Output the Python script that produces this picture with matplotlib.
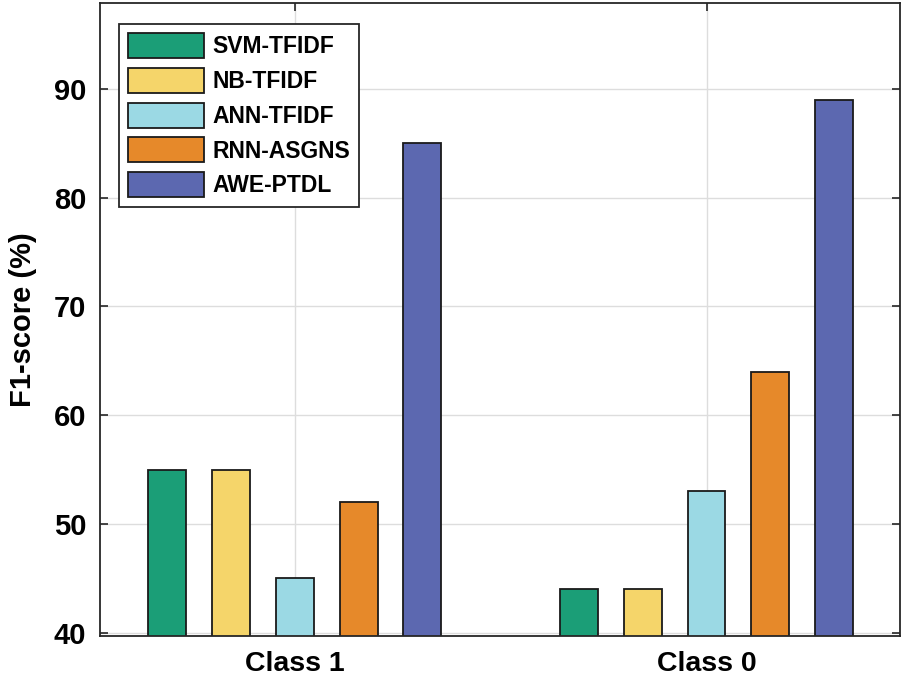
import numpy as np
import matplotlib
matplotlib.use('Agg')
import matplotlib.pyplot as plt

plt.rcParams['font.family'] = ['Liberation Sans', 'DejaVu Sans']
plt.rcParams['font.weight'] = 'bold'

classes = ['Class 1', 'Class 0']
methods = ['SVM-TFIDF', 'NB-TFIDF', 'ANN-TFIDF', 'RNN-ASGNS', 'AWE-PTDL']
colors = ['#1b9e77', '#f5d56a', '#9bd9e4', '#e6892a', '#5c68b0']
f1_class1 = [55, 55, 45, 52, 85]
f1_class0 = [44, 44, 53, 64, 89]

scores = np.array([f1_class1, f1_class0])

fig = plt.figure(figsize=(9.05, 6.83), dpi=100)
ax = fig.add_axes([0.1105, 0.0688, 0.884, 0.9268])

x = np.arange(1, len(classes) + 1)
step = 0.155
width = 0.092
for i, m in enumerate(methods):
    ax.bar(x + (i - 2) * step, scores[:, i], width, bottom=0, color=colors[i],
           edgecolor='#1a1a1a', linewidth=1.3, label=m, zorder=3)

ax.set_xlim(0.527, 2.47)
ax.set_ylim(39.7, 97.9)
ax.set_xticks(x)
ax.set_xticklabels(classes, fontsize=20.5, fontweight='bold')
ax.set_yticks([40, 50, 60, 70, 80, 90])
ax.tick_params(axis='y', labelsize=21, pad=10)
ax.tick_params(axis='x', pad=11)
ax.tick_params(direction='in', length=6, width=1.2, color='#262626',
               top=True, right=True)
ax.grid(True, color='#dddddd', linewidth=1.0, zorder=0)
ax.set_axisbelow(True)
for s in ax.spines.values():
    s.set_linewidth(1.3)
    s.set_color('#262626')
    s.set_zorder(4)

ax.set_ylabel('F1-score (%)', fontsize=21, fontweight='bold', labelpad=12)

leg = ax.legend(loc='upper left', bbox_to_anchor=(0.024, 0.967), borderaxespad=0,
                handlelength=3.3, handleheight=1.3, labelspacing=0.42,
                handletextpad=0.35, borderpad=0.4, fancybox=False, framealpha=1,
                edgecolor='#262626', prop={'weight': 'bold', 'size': 16.5})
leg.get_frame().set_linewidth(1.3)

fig.savefig('out.png', dpi=100)
